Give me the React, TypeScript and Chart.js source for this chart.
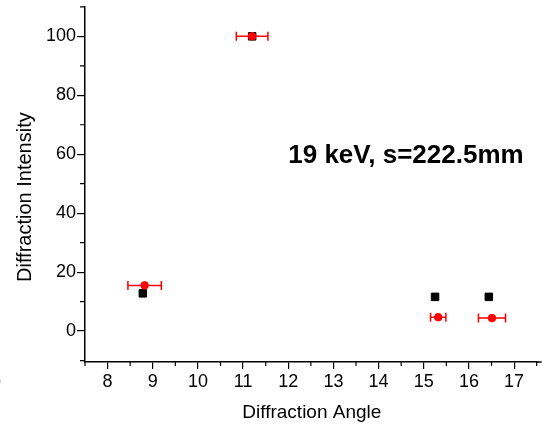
import React, { useEffect, useRef } from "react";
import { Chart, registerables } from "chart.js";

Chart.register(...registerables);

const blackX = [8.78, 11.2, 15.25, 16.44];
const blackY = [12.8, 100, 11.6, 11.6];
const redX = [8.82, 11.2, 15.32, 16.51];
const redY = [15.5, 100, 4.7, 4.4];
const redXErr = [0.37, 0.35, 0.17, 0.3];

const xTickValues = [8, 9, 10, 11, 12, 13, 14, 15, 16, 17];
const yTickValues = [0, 20, 40, 60, 80, 100];
const xMinorTicks = [7.5, 8.5, 9.5, 10.5, 11.5, 12.5, 13.5, 14.5, 15.5, 16.5, 17.5];
const yMinorTicks = [-10, 10, 30, 50, 70, 90, 110];

const xTitle = "Diffraction Angle";
const yTitle = "Diffraction Intensity";
const annotationText = "19 keV, s=222.5mm";
const annotationPos = { x: 12.0, y: 57 };

const FONT = '"Liberation Sans", Arial, sans-serif';

const extrasPlugin = {
  id: "extras",
  beforeDatasetsDraw(chart: any) {
    const ctx = chart.ctx;
    const xs = chart.scales.x;
    const ys = chart.scales.y;
    ctx.save();
    ctx.strokeStyle = "#ff0000";
    ctx.lineWidth = 1.5;
    redX.forEach((xv, i) => {
      const y = ys.getPixelForValue(redY[i]);
      const x1 = xs.getPixelForValue(xv - redXErr[i]);
      const x2 = xs.getPixelForValue(xv + redXErr[i]);
      ctx.beginPath();
      ctx.moveTo(x1, y);
      ctx.lineTo(x2, y);
      ctx.moveTo(x1, y - 4.5);
      ctx.lineTo(x1, y + 4.5);
      ctx.moveTo(x2, y - 4.5);
      ctx.lineTo(x2, y + 4.5);
      ctx.stroke();
    });
    ctx.restore();
  },
  afterDraw(chart: any) {
    const ctx = chart.ctx;
    const xs = chart.scales.x;
    const ys = chart.scales.y;
    const ca = chart.chartArea;
    ctx.save();
    ctx.strokeStyle = "#000";
    ctx.lineWidth = 1.5;
    ctx.beginPath();
    ctx.moveTo(ca.right - 1, ca.bottom);
    ctx.lineTo(ca.right + 5, ca.bottom);
    ctx.stroke();
    ctx.lineWidth = 1.2;
    ctx.beginPath();
    xMinorTicks.forEach((v) => {
      const x = xs.getPixelForValue(v);
      ctx.moveTo(x, ca.bottom);
      ctx.lineTo(x, ca.bottom + 4);
    });
    yMinorTicks.forEach((v) => {
      const y = ys.getPixelForValue(v);
      ctx.moveTo(ca.left, y);
      ctx.lineTo(ca.left - 5, y);
    });
    ctx.stroke();

    ctx.fillStyle = "#000";
    ctx.font = `19px ${FONT}`;
    ctx.textAlign = "center";
    ctx.textBaseline = "middle";
    ctx.fillText(xTitle, (ca.left + ca.right) / 2 + 1, ca.bottom + 51);
    ctx.save();
    ctx.translate(ca.left - 60, (ca.top + ca.bottom) / 2 + 13);
    ctx.rotate(-Math.PI / 2);
    ctx.font = `20px ${FONT}`;
    ctx.fillText(yTitle, 0, 0);
    ctx.restore();
    ctx.font = `bold 26px ${FONT}`;
    ctx.textAlign = "left";
    ctx.textBaseline = "alphabetic";
    ctx.fillText(annotationText, xs.getPixelForValue(annotationPos.x), ys.getPixelForValue(annotationPos.y));
    ctx.font = `18px ${FONT}`;
    ctx.fillStyle = "#777";
    ctx.fillText("0", ca.left - 94, ca.bottom + 26);
    ctx.restore();
  },
};

export default function App() {
  const ref = useRef<HTMLCanvasElement>(null);
  useEffect(() => {
    if (!ref.current) return;
    const chart = new Chart(ref.current, {
      type: "scatter",
      data: {
        datasets: [
          {
            label: "red",
            data: redX.map((x, i) => ({ x, y: redY[i] })),
            pointStyle: "circle",
            pointRadius: 3.8,
            backgroundColor: "#ff0000",
            borderColor: "#ff0000",
            borderWidth: 1,
          },
          {
            label: "black",
            data: blackX.map((x, i) => ({ x, y: blackY[i] })),
            pointStyle: "rect",
            pointRadius: 5.3,
            backgroundColor: "#000",
            borderColor: "#000",
            borderWidth: 1,
          },
        ],
      },
      options: {
        animation: false,
        responsive: true,
        maintainAspectRatio: false,
        layout: { padding: { top: 5.7, right: 2, left: 0, bottom: 0 } },
        plugins: { legend: { display: false }, tooltip: { enabled: false } },
        scales: {
          x: {
            type: "linear",
            min: 7.5,
            max: 17.5,
            afterBuildTicks: (s: any) => {
              s.ticks = xTickValues.map((value) => ({ value }));
            },
            afterFit: (s: any) => {
              s.height = 66;
              s.paddingLeft = 0;
              s.paddingRight = 0;
            },
            ticks: {
              color: "#000",
              font: { family: FONT, size: 18 },
              padding: 2,
              maxRotation: 0,
              autoSkip: false,
            },
            grid: {
              display: true,
              drawOnChartArea: false,
              drawTicks: true,
              tickLength: 7,
              color: "#000",
              lineWidth: 1.2,
            },
            border: { display: true, color: "#000", width: 1.5 },
          },
          y: {
            type: "linear",
            min: -10.5,
            max: 110.2,
            afterBuildTicks: (s: any) => {
              s.ticks = yTickValues.map((value) => ({ value }));
            },
            afterFit: (s: any) => {
              s.width = 85;
              s.paddingTop = 0;
              s.paddingBottom = 0;
            },
            ticks: {
              color: "#000",
              font: { family: FONT, size: 18 },
              padding: 1,
              autoSkip: false,
            },
            grid: {
              display: true,
              drawOnChartArea: false,
              drawTicks: true,
              tickLength: 8,
              color: "#000",
              lineWidth: 1.2,
            },
            border: { display: true, color: "#000", width: 1.5 },
          },
        },
      },
      plugins: [extrasPlugin],
    });
    return () => chart.destroy();
  }, []);
  return (
    <div style={{ position: "fixed", left: 0, top: 0, width: 543, height: 428, background: "#fff" }}>
      <canvas ref={ref} />
    </div>
  );
}
